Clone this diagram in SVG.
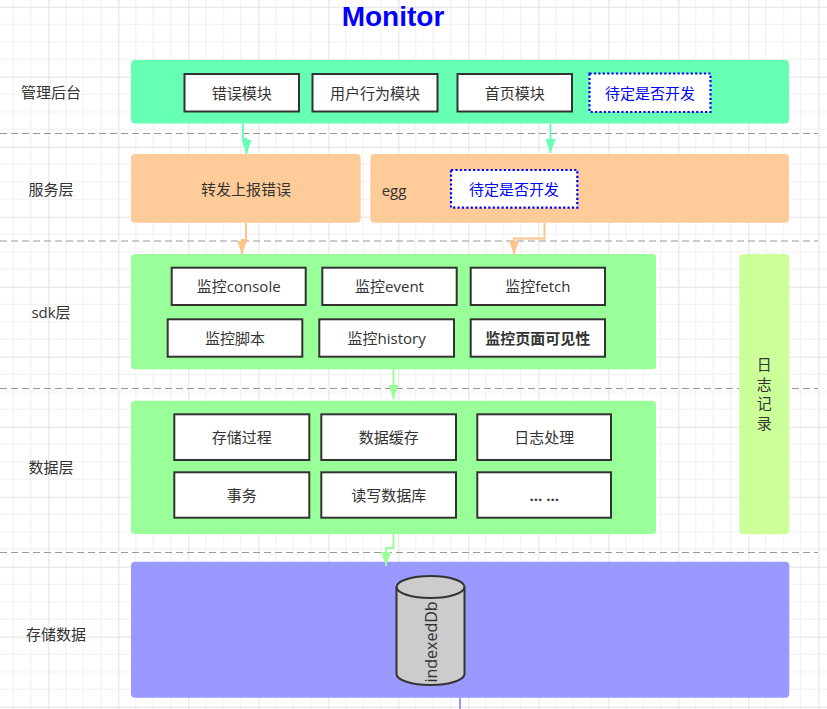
<svg xmlns="http://www.w3.org/2000/svg" width="827" height="709" viewBox="0 0 827 709">
<defs>
<pattern id="grid" patternUnits="userSpaceOnUse" x="-21.7" y="6.7" width="70" height="70">
<path d="M17.5,0V70M35,0V70M52.5,0V70M0,17.5H70M0,35H70M0,52.5H70" stroke="#f0f0f0" stroke-width="1" fill="none"/>
<path d="M0.5,0V70M0,0.5H70" stroke="#e2e2e2" stroke-width="1" fill="none"/>
</pattern>
<marker id="ah-mint" markerUnits="userSpaceOnUse" markerWidth="14" markerHeight="10" refX="14" refY="5" orient="auto" viewBox="0 0 14 10"><path d="M0,0L14,5L0,10z" fill="#66FFB3"/></marker>
<marker id="ah-peach" markerUnits="userSpaceOnUse" markerWidth="14" markerHeight="10" refX="14" refY="5" orient="auto" viewBox="0 0 14 10"><path d="M0,0L14,5L0,10z" fill="#FFC48A"/></marker>
<marker id="ah-lime" markerUnits="userSpaceOnUse" markerWidth="14" markerHeight="10" refX="14" refY="5" orient="auto" viewBox="0 0 14 10"><path d="M0,0L14,5L0,10z" fill="#99FF99"/></marker>
</defs>
<style>
text{font-family:"Open Sans","Noto Sans CJK SC",sans-serif;font-size:15px;fill:#333333;}
.c{text-anchor:middle;dominant-baseline:central;}
.box{fill:#ffffff;stroke:#333333;stroke-width:2;}
.tbd{fill:#ffffff;stroke:#0000FF;stroke-width:2.2;stroke-dasharray:2.2 2.2;}
.blue{fill:#0000FF;}
.b{font-weight:bold;}
.sep{stroke:#999999;stroke-width:1.2;stroke-dasharray:7 4;fill:none;}
.edge{fill:none;stroke-width:2;}
</style>
<rect width="827" height="709" fill="#ffffff"/>
<rect width="827" height="709" fill="url(#grid)"/>

<g id="separators">
<path class="sep" d="M0,133.5H818M0,241H818M0,388.5H818M0,552.5H818"/>
</g>

<text x="393" y="26" style="font-family:'Liberation Sans',Arial,sans-serif;font-size:28px;font-weight:bold;fill:#0000FF;text-anchor:middle">Monitor</text>

<g id="layer-labels">
<text class="c" x="51" y="92">管理后台</text>
<text class="c" x="51" y="189">服务层</text>
<text class="c" x="51" y="312">sdk层</text>
<text class="c" x="51" y="467">数据层</text>
<text class="c" x="56" y="634">存储数据</text>
</g>

<g id="admin">
<rect x="131" y="60" width="658" height="63.5" rx="4" fill="#66FFB3"/>
<g id="admin-error"><rect class="box" x="184.5" y="74" width="114.5" height="37.5"/><text class="c" x="241.7" y="92.7">错误模块</text></g>
<g id="admin-behavior"><rect class="box" x="312.5" y="74" width="125" height="37.5"/><text class="c" x="375" y="92.7">用户行为模块</text></g>
<g id="admin-home"><rect class="box" x="457.5" y="74" width="114.5" height="37.5"/><text class="c" x="514.7" y="92.7">首页模块</text></g>
<g id="admin-tbd"><rect class="tbd" x="589.5" y="73.5" width="121" height="38.5"/><text class="c blue" x="650" y="92.7">待定是否开发</text></g>
</g>

<g id="service-forward">
<rect x="131" y="154" width="229.7" height="68.7" rx="4" fill="#FFCC99"/>
<text class="c" x="246" y="188.5">转发上报错误</text>
</g>
<g id="service-egg">
<rect x="370.3" y="154" width="418.7" height="68.7" rx="4" fill="#FFCC99"/>
<text x="381.7" y="189.5" style="dominant-baseline:central">egg</text>
<g id="service-tbd"><rect class="tbd" x="451" y="170" width="126.3" height="37.7"/><text class="c blue" x="514" y="189">待定是否开发</text></g>
</g>

<g id="sdk">
<rect x="131" y="254" width="525" height="115.3" rx="4" fill="#99FF99"/>
<g id="sdk-console"><rect class="box" x="171.7" y="267.7" width="134" height="37.3"/><text class="c" x="238.7" y="286.3">监控console</text></g>
<g id="sdk-event"><rect class="box" x="322.3" y="267.7" width="134.4" height="37.3"/><text class="c" x="389.5" y="286.3">监控event</text></g>
<g id="sdk-fetch"><rect class="box" x="470.7" y="267.7" width="134.3" height="37.3"/><text class="c" x="537.8" y="286.3">监控fetch</text></g>
<g id="sdk-script"><rect class="box" x="167.7" y="319.3" width="134.6" height="37.4"/><text class="c" x="235" y="338">监控脚本</text></g>
<g id="sdk-history"><rect class="box" x="319.3" y="319.3" width="134.7" height="37.4"/><text class="c" x="386.7" y="338">监控history</text></g>
<g id="sdk-visibility"><rect class="box" x="470.7" y="319.3" width="134.3" height="37.4"/><text class="c b" x="537.8" y="338">监控页面可见性</text></g>
</g>

<g id="data">
<rect x="131" y="400.7" width="525" height="133.3" rx="4" fill="#99FF99"/>
<g id="data-proc"><rect class="box" x="174.3" y="414.3" width="135" height="45.7"/><text class="c" x="241.8" y="437.2">存储过程</text></g>
<g id="data-cache"><rect class="box" x="321.3" y="414.3" width="134.7" height="45.7"/><text class="c" x="388.7" y="437.2">数据缓存</text></g>
<g id="data-log"><rect class="box" x="477.3" y="414.3" width="133.7" height="45.7"/><text class="c" x="544.2" y="437.2">日志处理</text></g>
<g id="data-tx"><rect class="box" x="174.3" y="472.3" width="135" height="45.4"/><text class="c" x="241.8" y="495">事务</text></g>
<g id="data-rw"><rect class="box" x="321.3" y="472.3" width="134.7" height="45.4"/><text class="c" x="388.7" y="495">读写数据库</text></g>
<g id="data-more"><rect class="box" x="477.3" y="472.3" width="133.7" height="45.4"/><text class="c b" x="544.2" y="495">... ...</text></g>
</g>

<g id="log-record">
<rect x="739.3" y="254" width="50" height="280.3" rx="4" fill="#CCFF99"/>
<text class="c" x="764.3" y="364">日</text>
<text class="c" x="764.3" y="383.5">志</text>
<text class="c" x="764.3" y="403">记</text>
<text class="c" x="764.3" y="422.5">录</text>
</g>

<g id="storage">
<rect x="131" y="561.7" width="658.3" height="136" rx="4" fill="#9999FF"/>
<g id="indexeddb">
<path d="M396.5,587 A34,11 0 0 1 464.5,587 V674 A34,11 0 0 1 396.5,674 Z" fill="#CCCCCC" stroke="#333333" stroke-width="2"/>
<path d="M396.5,587 A34,11 0 0 0 464.5,587" fill="none" stroke="#333333" stroke-width="2"/>
<text class="c" transform="translate(430.5,642) rotate(-90)" x="0" y="0" style="font-size:16px">indexedDb</text>
</g>
</g>

<g id="connectors">
<path class="edge" stroke="#66FFB3" d="M243,124V139H246.5V154" marker-end="url(#ah-mint)"/>
<path class="edge" stroke="#66FFB3" d="M550.5,124V153" marker-end="url(#ah-mint)"/>
<path class="edge" stroke="#FFC48A" d="M246,223V240H242V254.5" marker-end="url(#ah-peach)"/>
<path class="edge" stroke="#FFC48A" d="M544.5,223V238.5H514V255" marker-end="url(#ah-peach)"/>
<path class="edge" stroke="#99FF99" d="M393.5,369.5V399" marker-end="url(#ah-lime)"/>
<path class="edge" stroke="#99FF99" d="M393.5,534V548H386V566" marker-end="url(#ah-lime)"/>
<path class="edge" stroke="#9999FF" d="M460,697.7V709"/>
</g>
</svg>
